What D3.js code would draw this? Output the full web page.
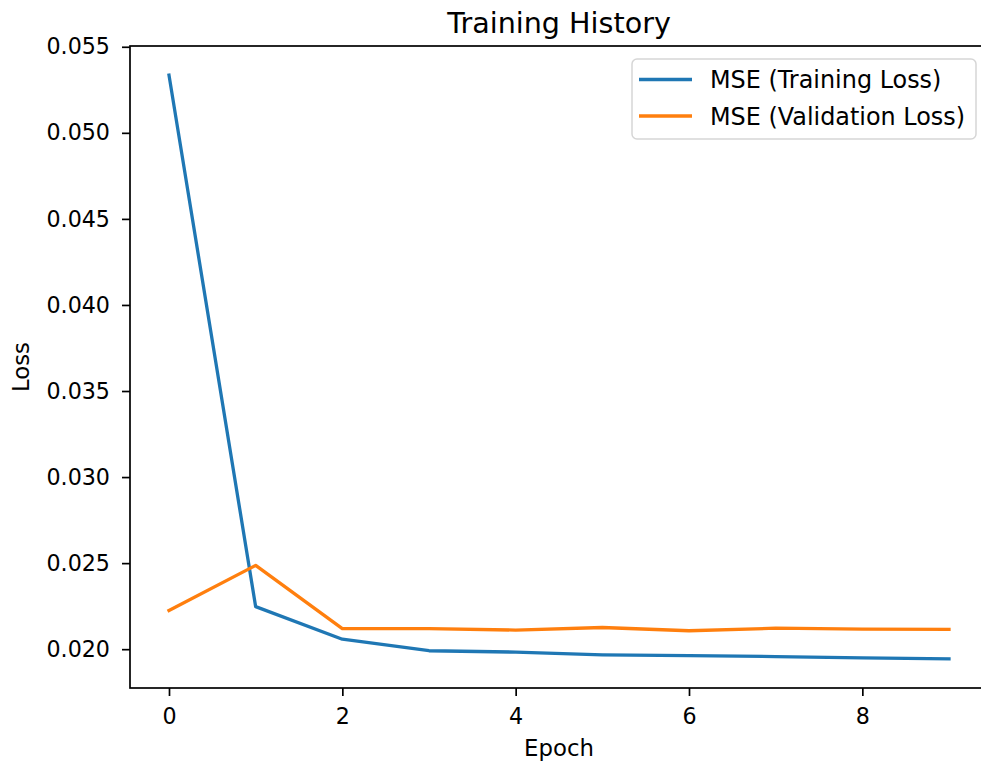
<!DOCTYPE html>
<html>
<head>
<meta charset="utf-8">
<script src="https://cdn.jsdelivr.net/npm/d3@7"></script>
<style>
  body { margin: 0; background: #fff; }
  svg text { font-family: "DejaVu Sans", sans-serif; fill: #000; }
</style>
</head>
<body>
<svg id="chart" width="981" height="762"></svg>
<script>
"use strict";

// values
const epochs = [0, 1, 2, 3, 4, 5, 6, 7, 8, 9];
const trainLoss = [0.05335, 0.02247, 0.02058, 0.01991, 0.01983, 0.01967, 0.01962, 0.01957, 0.0195, 0.01944];
const valLoss = [0.02225, 0.02487, 0.02119, 0.02119, 0.02111, 0.02126, 0.02107, 0.02122, 0.02116, 0.02115];
const xTicks = [0, 2, 4, 6, 8];
const yTicks = [0.020, 0.025, 0.030, 0.035, 0.040, 0.045, 0.050, 0.055];
const seriesNames = ["MSE (Training Loss)", "MSE (Validation Loss)"];
const colors = ["#1f77b4", "#ff7f0e"];

const svg = d3.select("#chart");
const plotL = 130, plotR = 988, plotT = 46, plotB = 688;

// matplotlib-style 5% margins
const allY = trainLoss.concat(valLoss);
const yMin = d3.min(allY), yMax = d3.max(allY);
const yPad = (yMax - yMin) * 0.05;

const x = d3.scaleLinear().domain([-0.45, 9.45]).range([plotL, plotR]);
const y = d3.scaleLinear().domain([yMin - yPad, yMax + yPad]).range([plotB, plotT]);

// lines
const line = d3.line()
  .x(function (d, i) { return x(epochs[i]); })
  .y(function (d) { return y(d); });

[trainLoss, valLoss].forEach(function (s, i) {
  svg.append("path")
    .attr("d", line(s))
    .attr("fill", "none")
    .attr("stroke", colors[i])
    .attr("stroke-width", 3.3)
    .attr("stroke-linejoin", "round")
    .attr("stroke-linecap", "square");
});

// axes
const xAxis = svg.append("g")
  .attr("transform", "translate(0," + plotB + ")")
  .call(d3.axisBottom(x).tickValues(xTicks).tickFormat(d3.format("d")).tickSize(8).tickPadding(12).tickSizeOuter(0));
const yAxis = svg.append("g")
  .attr("transform", "translate(" + plotL + ",0)")
  .call(d3.axisLeft(y).tickValues(yTicks).tickFormat(d3.format(".3f")).tickSize(8).tickPadding(12).tickSizeOuter(0));

[xAxis, yAxis].forEach(function (g) {
  g.select(".domain").remove();
  g.selectAll(".tick line").attr("stroke", "#000").attr("stroke-width", 1.7);
  g.selectAll(".tick text").attr("font-size", 22.2).attr("fill", "#222");
});

// spines
svg.append("rect")
  .attr("x", plotL).attr("y", plotT)
  .attr("width", plotR - plotL).attr("height", plotB - plotT)
  .attr("fill", "none").attr("stroke", "#000").attr("stroke-width", 1.7);

// labels
svg.append("text")
  .attr("x", (plotL + plotR) / 2).attr("y", 33)
  .attr("text-anchor", "middle").attr("font-size", 28.6)
  .text("Training History");
svg.append("text")
  .attr("x", (plotL + plotR) / 2).attr("y", 756)
  .attr("text-anchor", "middle").attr("font-size", 22.8)
  .text("Epoch");
svg.append("text")
  .attr("transform", "translate(29," + (plotT + plotB) / 2 + ") rotate(-90)")
  .attr("text-anchor", "middle").attr("font-size", 22.8)
  .text("Loss");

// legend
const legend = svg.append("g");
legend.append("rect")
  .attr("x", 632).attr("y", 59).attr("width", 344).attr("height", 80)
  .attr("rx", 5).attr("fill", "#fff").attr("fill-opacity", 0.8)
  .attr("stroke", "#d6d6d6").attr("stroke-width", 1.5);
seriesNames.forEach(function (name, i) {
  const ly = 79.5 + i * 36.5;
  legend.append("line")
    .attr("x1", 639).attr("x2", 692).attr("y1", ly).attr("y2", ly)
    .attr("stroke", colors[i]).attr("stroke-width", 3.3);
  legend.append("text")
    .attr("x", 710).attr("y", ly).attr("dy", "0.36em")
    .attr("font-size", 23.9).attr("fill", "#222")
    .text(name);
});
</script>
</body>
</html>
